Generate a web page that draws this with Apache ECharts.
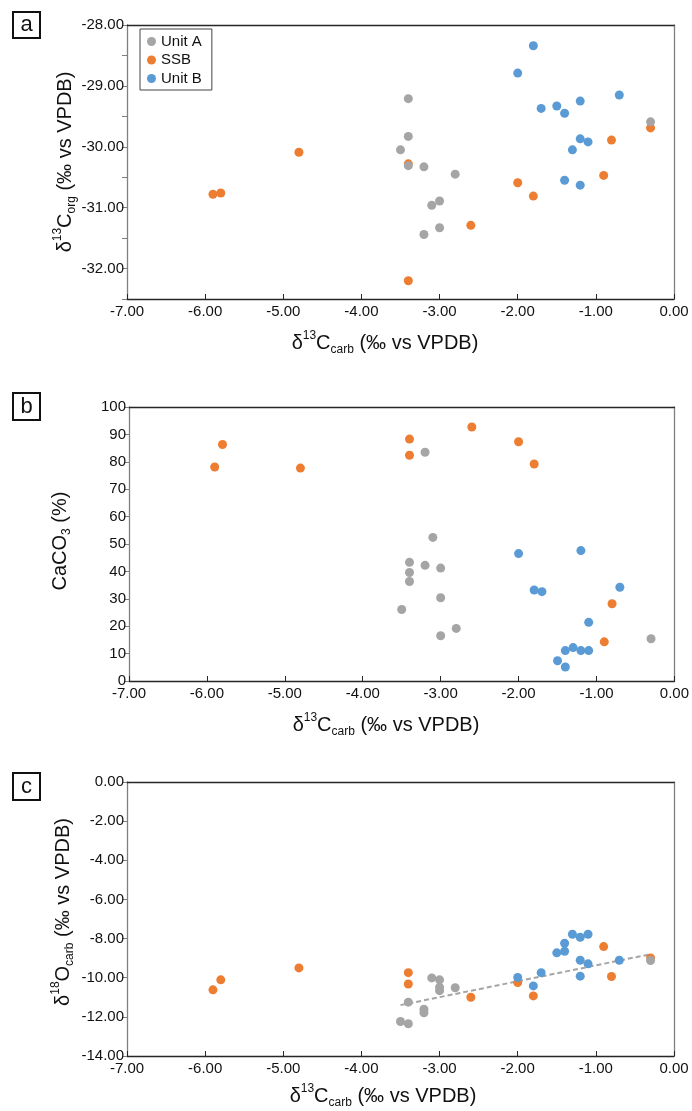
<!DOCTYPE html>
<html>
<head>
<meta charset="utf-8">
<script src="https://cdn.jsdelivr.net/npm/echarts@6/dist/echarts.min.js"></script>
<style>
html,body{margin:0;padding:0;background:#fff;}
#chart{width:692px;height:1111px;}
</style>
</head>
<body>
<div id="chart"></div>
<script>
// ---------- DATA ----------
var seriesNames = ['Unit A', 'SSB', 'Unit B'];
var seriesColors = ['#A5A5A5', '#ED7D31', '#5B9BD5'];

// Panel a: d13C_carb vs d13C_org
var aUnitAX = [-3.4, -0.3, -3.4, -3.5, -3.4, -3.2, -2.8, -3.0, -3.1, -3.0, -3.2];
var aUnitAY = [-29.21, -29.59, -29.83, -30.05, -30.31, -30.33, -30.45, -30.89, -30.96, -31.33, -31.44];
var aSSBX = [-5.9, -5.8, -4.8, -0.3, -0.8, -3.4, -0.9, -2.0, -1.8, -2.6, -3.4];
var aSSBY = [-30.78, -30.76, -30.09, -29.69, -29.89, -30.28, -30.47, -30.59, -30.81, -31.29, -32.2];
var aUnitBX = [-1.8, -2.0, -0.7, -1.2, -1.5, -1.7, -1.4, -1.2, -1.1, -1.3, -1.4, -1.2];
var aUnitBY = [-28.34, -28.79, -29.15, -29.25, -29.33, -29.37, -29.45, -29.87, -29.92, -30.05, -30.55, -30.63];

// Panel b: d13C_carb vs CaCO3
var bUnitAX = [-3.2, -3.1, -3.4, -3.2, -3.0, -3.4, -3.4, -3.0, -3.5, -2.8, -3.0, -0.3];
var bUnitAY = [83.5, 52.4, 43.3, 42.2, 41.2, 39.6, 36.3, 30.4, 26.1, 19.2, 16.5, 15.4];
var bSSBX = [-5.9, -5.8, -4.8, -2.6, -3.4, -2.0, -3.4, -1.8, -0.8, -0.9];
var bSSBY = [78.1, 86.3, 77.7, 92.7, 88.3, 87.3, 82.4, 79.2, 28.2, 14.3];
var bUnitBX = [-2.0, -1.2, -1.8, -1.7, -0.7, -1.1, -1.4, -1.3, -1.2, -1.1, -1.5, -1.4];
var bUnitBY = [46.5, 47.6, 33.2, 32.6, 34.2, 21.4, 11.1, 12.2, 11.1, 11.1, 7.4, 5.1];

// Panel c: d13C_carb vs d18O_carb
var cUnitAX = [-0.3, -3.1, -3.0, -3.0, -3.0, -2.8, -3.4, -3.2, -3.2, -3.5, -3.4];
var cUnitAY = [-9.12, -10.01, -10.11, -10.49, -10.66, -10.51, -11.25, -11.61, -11.79, -12.24, -12.35];
var cSSBX = [-5.9, -5.8, -4.8, -0.3, -0.9, -0.8, -3.4, -3.4, -2.6, -2.0, -1.8];
var cSSBY = [-10.62, -10.11, -9.50, -8.99, -8.41, -9.94, -9.74, -10.32, -11.0, -10.25, -10.93];
var cUnitBX = [-1.3, -1.2, -1.1, -1.4, -1.5, -1.4, -1.2, -1.1, -0.7, -1.2, -1.7, -2.0, -1.8];
var cUnitBY = [-7.78, -7.93, -7.78, -8.24, -8.73, -8.65, -9.11, -9.29, -9.11, -9.92, -9.74, -9.99, -10.42];
var cTrendX = [-3.5, -0.3];
var cTrendY = [-11.4, -8.8];

// Axis tick settings
var xMin = -7, xMax = 0, xStep = 1;
var aYMin = -32.5, aYMax = -28, aYStep = 0.5;
var bYMin = 0, bYMax = 100, bYStep = 10;
var cYMin = -14, cYMax = 0, cYStep = 2;

// ---------- CHART ----------
var FONT = '"Liberation Sans", Arial, Helvetica, sans-serif';
function zip(xs, ys) { return xs.map(function (x, i) { return [x, ys[i]]; }); }

var grids = [
  {left: 127, top: 25, width: 547, height: 274},
  {left: 129, top: 407, width: 547, height: 274},
  {left: 127, top: 782, width: 547, height: 274}
];

var darkLine = '#262626';
var grayLine = '#808080';

var xAxes = [], yAxes = [];
for (var g = 0; g < 3; g++) {
  xAxes.push({
    type: 'value', gridIndex: g, min: xMin, max: xMax, interval: xStep,
    axisLine: {show: true, onZero: false, lineStyle: {color: darkLine, width: 1.3}},
    axisTick: {show: true, inside: true, length: 5, lineStyle: {color: darkLine}},
    axisLabel: {fontFamily: FONT, fontSize: 15, color: '#111', margin: 5,
      formatter: function (v) { return v.toFixed(2); }},
    splitLine: {show: false}
  });
}
for (var g2 = 0; g2 < 3; g2++) {
  xAxes.push({
    type: 'value', gridIndex: g2, position: 'top', min: 0, max: 1,
    axisLine: {show: true, onZero: false, lineStyle: {color: darkLine, width: 1.3}},
    axisTick: {show: false}, axisLabel: {show: false}, splitLine: {show: false}
  });
}
var yCommon = function (g, min, max, step, fmt) {
  return {
    type: 'value', gridIndex: g, min: min, max: max, interval: step,
    axisLine: {show: true, onZero: false, lineStyle: {color: grayLine, width: 1.3}},
    axisTick: {show: true, inside: false, length: 5, lineStyle: {color: grayLine}},
    axisLabel: {fontFamily: FONT, fontSize: 15, color: '#111', margin: 3, formatter: fmt},
    splitLine: {show: false}
  };
};
yAxes.push(yCommon(0, aYMin, aYMax, aYStep, function (v) {
  return Math.abs(v - Math.round(v)) < 1e-6 ? v.toFixed(2) : '';
}));
yAxes.push(yCommon(1, bYMin, bYMax, bYStep, function (v) { return String(Math.round(v)); }));
yAxes.push(yCommon(2, cYMin, cYMax, cYStep, function (v) { return v.toFixed(2); }));
for (var g3 = 0; g3 < 3; g3++) {
  yAxes.push({
    type: 'value', gridIndex: g3, position: 'right', min: 0, max: 1,
    axisLine: {show: true, onZero: false, lineStyle: {color: grayLine, width: 1.3}},
    axisTick: {show: false}, axisLabel: {show: false}, splitLine: {show: false}
  });
}

function scatter(name, idx, xs, ys, color) {
  return {
    name: name, type: 'scatter', xAxisIndex: idx, yAxisIndex: idx,
    data: zip(xs, ys), symbol: 'circle', symbolSize: 9,
    itemStyle: {color: color, opacity: 1}
  };
}

var series = [
  scatter(seriesNames[1], 0, aSSBX, aSSBY, seriesColors[1]),
  scatter(seriesNames[0], 0, aUnitAX, aUnitAY, seriesColors[0]),
  scatter(seriesNames[2], 0, aUnitBX, aUnitBY, seriesColors[2]),
  scatter(seriesNames[1], 1, bSSBX, bSSBY, seriesColors[1]),
  scatter(seriesNames[0], 1, bUnitAX, bUnitAY, seriesColors[0]),
  scatter(seriesNames[2], 1, bUnitBX, bUnitBY, seriesColors[2]),
  {
    name: 'trend', type: 'line', xAxisIndex: 2, yAxisIndex: 2,
    data: zip(cTrendX, cTrendY), showSymbol: false, symbol: 'none',
    lineStyle: {color: '#A5A5A5', width: 2, type: [5, 3]}, z: 1
  },
  scatter(seriesNames[1], 2, cSSBX, cSSBY, seriesColors[1]),
  scatter(seriesNames[0], 2, cUnitAX, cUnitAY, seriesColors[0]),
  scatter(seriesNames[2], 2, cUnitBX, cUnitBY, seriesColors[2])
];

var richBase = {
  m: {fontFamily: FONT, fontSize: 20, color: '#111'},
  sup: {fontFamily: FONT, fontSize: 12, color: '#111', padding: [0, 0, 15, 0]},
  sub: {fontFamily: FONT, fontSize: 12, color: '#111', padding: [14, 0, 0, 0]}
};

function titleText(x, y, text, rotate) {
  return {
    type: 'text', x: x, y: y, rotation: rotate ? Math.PI / 2 : 0,
    style: {text: text, rich: richBase, align: 'center', verticalAlign: 'middle',
      textAlign: 'center', textVerticalAlign: 'middle', fill: '#111'},
    silent: true
  };
}
function panelLabel(x, y, w, h, letter) {
  return [{
    type: 'rect', shape: {x: x, y: y, width: w, height: h},
    style: {fill: '#fff', stroke: '#111', lineWidth: 2}, silent: true
  }, {
    type: 'text', x: x + w / 2, y: y + h / 2,
    style: {text: letter, fontFamily: FONT, fontSize: 22, fill: '#111',
      align: 'center', verticalAlign: 'middle', textAlign: 'center', textVerticalAlign: 'middle'},
    silent: true
  }];
}

var xTitle = '{m|δ}{sup|13}{m|C}{sub|carb}{m| (‰ vs VPDB)}';
var graphics = []
  .concat(panelLabel(13, 12, 27, 26, 'a'))
  .concat(panelLabel(13, 393, 27, 27, 'b'))
  .concat(panelLabel(13, 773, 27, 27, 'c'))
  .concat([
    titleText(385, 343, xTitle, false),
    titleText(386, 725, xTitle, false),
    titleText(383, 1096, xTitle, false),
    titleText(65, 162, '{m|δ}{sup|13}{m|C}{sub|org}{m| (‰ vs VPDB)}', true),
    titleText(60, 541, '{m|CaCO}{sub|3}{m| (%)}', true),
    titleText(63, 912, '{m|δ}{sup|18}{m|O}{sub|carb}{m| (‰ vs VPDB)}', true)
  ]);

var chart = echarts.init(document.getElementById('chart'), null, {renderer: 'canvas'});
chart.setOption({
  animation: false,
  backgroundColor: '#fff',
  textStyle: {fontFamily: FONT},
  grid: grids,
  xAxis: xAxes,
  yAxis: yAxes,
  legend: {
    data: seriesNames,
    orient: 'vertical', left: 140, top: 29,
    itemWidth: 9, itemHeight: 9, itemGap: 3.5,
    icon: 'circle',
    padding: [5, 10, 4, 7],
    borderColor: '#444', borderWidth: 1,
    textStyle: {fontFamily: FONT, fontSize: 15, color: '#111'}
  },
  series: series,
  graphic: graphics
});
</script>
</body>
</html>
